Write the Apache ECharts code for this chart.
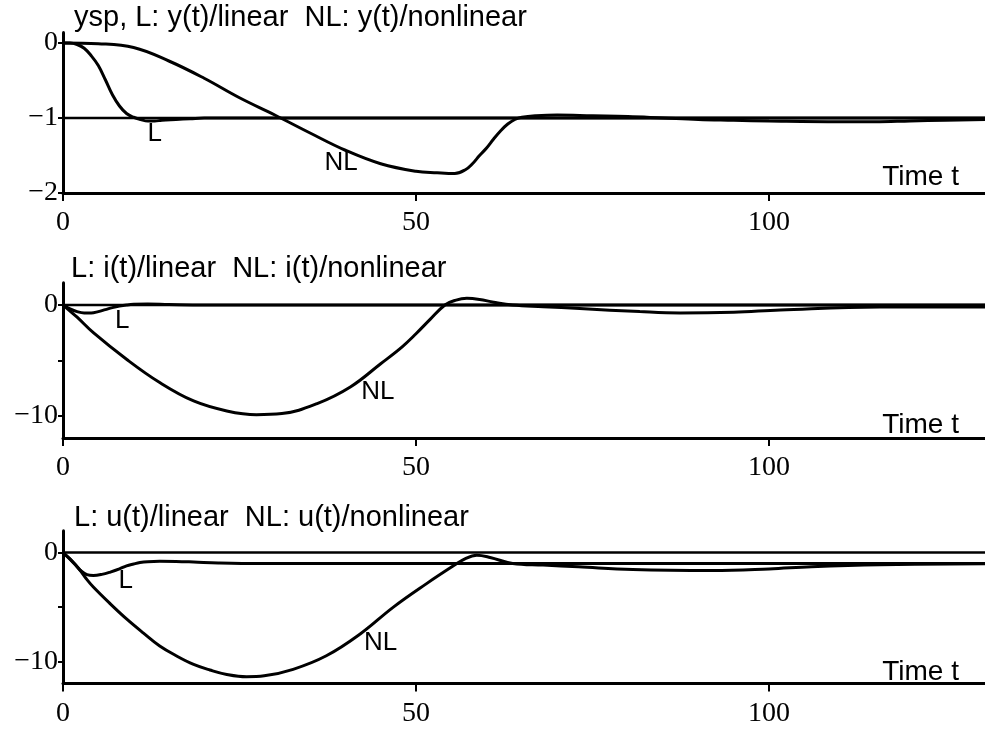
<!DOCTYPE html>
<html><head><meta charset="utf-8">
<script src="https://cdn.jsdelivr.net/npm/echarts@6/dist/echarts.min.js"></script>
<style>html,body{margin:0;padding:0;background:#fff}#c{width:985px;height:733px}</style>
</head><body><div id="c"></div>
<script>
// ---------- text ----------
const TITLES = ['ysp, L: y(t)/linear  NL: y(t)/nonlinear', 'L: i(t)/linear  NL: i(t)/nonlinear', 'L: u(t)/linear  NL: u(t)/nonlinear'];
const X_NAME = 'Time t';
const X_TICKS = [0, 50, 100];
const Y1_TICKS = [-2, -1, 0];
const Y23_TICKS = [-10, -5, 0];
const Y23_LABELED = [-10, 0];

// ---------- panel 1: y(t) ----------
const ysp_t = [0, 131];
const ysp_v = [-1, -1];
const y_lin_t = [0, 1, 2, 3, 4, 5, 6, 7, 8, 9, 10, 11, 12, 13, 14, 16, 18, 20, 30, 50, 80, 131];
const y_lin_v = [0, 0, -0.02, -0.07, -0.17, -0.3, -0.49, -0.69, -0.84, -0.94, -0.99, -1.02, -1.04, -1.04, -1.03, -1.02, -1.01, -1.0, -1.0, -1.0, -1.0, -1.0];
const y_nl_t = [0, 5, 10, 15, 20, 25, 30, 35, 40, 45, 50, 53, 55.5, 57, 58, 59, 60, 61, 62, 63, 64, 65, 67, 70, 75, 80, 85, 90, 95, 100, 110, 115, 120, 125, 131];
const y_nl_v = [0, -0.01, -0.06, -0.24, -0.47, -0.73, -0.96, -1.2, -1.43, -1.61, -1.71, -1.73, -1.74, -1.69, -1.61, -1.5, -1.4, -1.28, -1.17, -1.08, -1.02, -0.99, -0.97, -0.96, -0.97, -0.98, -1.0, -1.02, -1.03, -1.04, -1.05, -1.05, -1.04, -1.03, -1.02];
const y_lbl_L = [13, -1.21];
const y_lbl_NL = [39.4, -1.6];

// ---------- panel 2: i(t) ----------
const zero_t = [0, 131];
const zero_v = [0, 0];
const i_lin_t = [0, 1, 2, 3, 4, 5, 6, 7, 8, 9, 10, 12, 15, 20, 131];
const i_lin_v = [0, -0.35, -0.6, -0.72, -0.72, -0.6, -0.42, -0.24, -0.1, 0, 0.06, 0.08, 0.04, 0, 0];
const i_nl_t = [0, 1, 2, 4.3, 9, 13.7, 18.5, 23.2, 27.4, 31, 36, 40.7, 45, 48, 50, 52, 54.1, 55.5, 57.2, 59, 61, 63.7, 68, 73.2, 81.7, 87.4, 95, 101.6, 115.7, 131];
const i_nl_v = [0, -0.55, -1.1, -2.5, -4.9, -7.0, -8.66, -9.56, -9.9, -9.8, -8.9, -7.4, -5.3, -3.8, -2.6, -1.3, 0, 0.4, 0.6, 0.5, 0.25, 0, -0.15, -0.32, -0.6, -0.72, -0.65, -0.45, -0.18, -0.18];
const i_lbl_L = [8.4, -1.45];
const i_lbl_NL = [44.6, -7.8];

// ---------- panel 3: u(t) ----------
const u_lin_t = [0, 1, 2, 2.4, 3.4, 4.3, 5.5, 6.7, 8, 9, 10, 10.9, 12, 13.7, 16, 18.5, 22, 27.9, 40, 60, 80, 100, 131];
const u_lin_v = [0, -0.6, -1.3, -1.6, -2.03, -2.1, -2.0, -1.79, -1.5, -1.22, -1.05, -0.92, -0.84, -0.8, -0.82, -0.87, -0.95, -1.0, -1.0, -1.0, -1.0, -1.0, -1.0];
const u_nl_t = [0, 1, 2, 2.4, 3.3, 4.3, 6.7, 9, 11.4, 13.7, 16.1, 18.5, 20.8, 23.2, 26, 28.5, 32.6, 37.3, 42.1, 46.8, 51.5, 55.3, 57, 58.6, 60.5, 63.7, 68, 73, 80.7, 92, 100, 106, 115.7, 131];
const u_nl_v = [0, -0.6, -1.3, -1.6, -2.4, -3.16, -4.7, -6.08, -7.38, -8.56, -9.48, -10.25, -10.76, -11.17, -11.38, -11.3, -10.7, -9.46, -7.46, -5.0, -2.85, -1.22, -0.55, -0.25, -0.45, -1.0, -1.15, -1.31, -1.56, -1.65, -1.5, -1.3, -1.12, -1.02];
const u_lbl_L = [8.9, -2.56];
const u_lbl_NL = [45, -8.3];

// ---------- build ----------
const zip = (t, v) => t.map((x, k) => [x, v[k]]);
const BLACK = '#000';
const SANS = 'Liberation Sans, Arial, sans-serif';
const SERIF = 'Liberation Serif, Times New Roman, serif';
const XMAX = 130.6;

const grids = [
  { left: 63, right: 0, top: 32.5, height: 160.5 },
  { left: 63, right: 0, top: 282.8, height: 155.2 },
  { left: 63, right: 0, top: 530.7, height: 152.8 }
];
const yRanges = [[-2, 0.14], [-12, 2], [-12, 2]];
const yTicks = [Y1_TICKS, Y23_TICKS, Y23_TICKS];

const fmtY = (v, labeled) => {
  if (labeled && labeled.indexOf(v) < 0) return '';
  return v < 0 ? '\u2212' + Math.abs(v) : String(v);
};

const xAxes = grids.map((g, i) => ({
  gridIndex: i, type: 'value', min: 0, max: XMAX,
  axisLine: { onZero: false, lineStyle: { color: BLACK, width: 3 } },
  axisTick: { show: true, customValues: X_TICKS, length: 8, lineStyle: { color: BLACK, width: 2 } },
  axisLabel: { customValues: X_TICKS, color: BLACK, fontFamily: SERIF, fontSize: 28, margin: 16 },
  splitLine: { show: false }
}));
const yAxes = grids.map((g, i) => ({
  gridIndex: i, type: 'value', min: yRanges[i][0], max: yRanges[i][1],
  axisLine: { show: true, onZero: false, lineStyle: { color: BLACK, width: 3 } },
  axisTick: { show: true, customValues: yTicks[i], length: 5, lineStyle: { color: BLACK, width: 2 } },
  axisLabel: { customValues: yTicks[i], color: BLACK, fontFamily: SERIF, fontSize: 28, margin: 5,
    formatter: v => fmtY(v, i === 0 ? null : Y23_LABELED) },
  splitLine: { show: false }
}));

function curve(i, t, v, width, lbl, text) {
  const s = {
    type: 'line', xAxisIndex: i, yAxisIndex: i, data: zip(t, v),
    symbol: 'none', smooth: 0.4,
    lineStyle: { color: BLACK, width: width }, silent: true
  };
  if (lbl) {
    s.markPoint = {
      symbol: 'circle', symbolSize: 1, itemStyle: { color: 'rgba(0,0,0,0)' },
      label: { show: true, position: 'inside', formatter: text, color: BLACK, fontFamily: SANS, fontSize: 26 },
      data: [{ coord: lbl }]
    };
  }
  return s;
}

const series = [
  curve(0, ysp_t, ysp_v, 2.5),
  curve(0, y_lin_t, y_lin_v, 3, y_lbl_L, 'L'),
  curve(0, y_nl_t, y_nl_v, 3, y_lbl_NL, 'NL'),
  curve(1, zero_t, zero_v, 2.5),
  curve(1, i_lin_t, i_lin_v, 3, i_lbl_L, 'L'),
  curve(1, i_nl_t, i_nl_v, 3, i_lbl_NL, 'NL'),
  curve(2, zero_t, zero_v, 2.5),
  curve(2, u_lin_t, u_lin_v, 3, u_lbl_L, 'L'),
  curve(2, u_nl_t, u_nl_v, 3, u_lbl_NL, 'NL')
];

const titleTops = [3, 254, 503];
const titleLefts = [74, 71, 74];
const nameTops = [163, 411, 658];
const ts = { color: BLACK, fontFamily: SANS, fontSize: 29, fontWeight: 'normal' };
const ns = { color: BLACK, fontFamily: SANS, fontSize: 28, fontWeight: 'normal' };
const titles = [];
TITLES.forEach((t, i) => titles.push({ text: t, left: titleLefts[i], top: titleTops[i], padding: 0, textStyle: ts }));
nameTops.forEach(top => titles.push({ text: X_NAME, right: 26, top: top, padding: 0, textStyle: ns }));

const chart = echarts.init(document.getElementById('c'), null, { renderer: 'canvas' });
chart.setOption({
  animation: false, backgroundColor: '#fff',
  title: titles, grid: grids, xAxis: xAxes, yAxis: yAxes, series: series
});
</script></body></html>
